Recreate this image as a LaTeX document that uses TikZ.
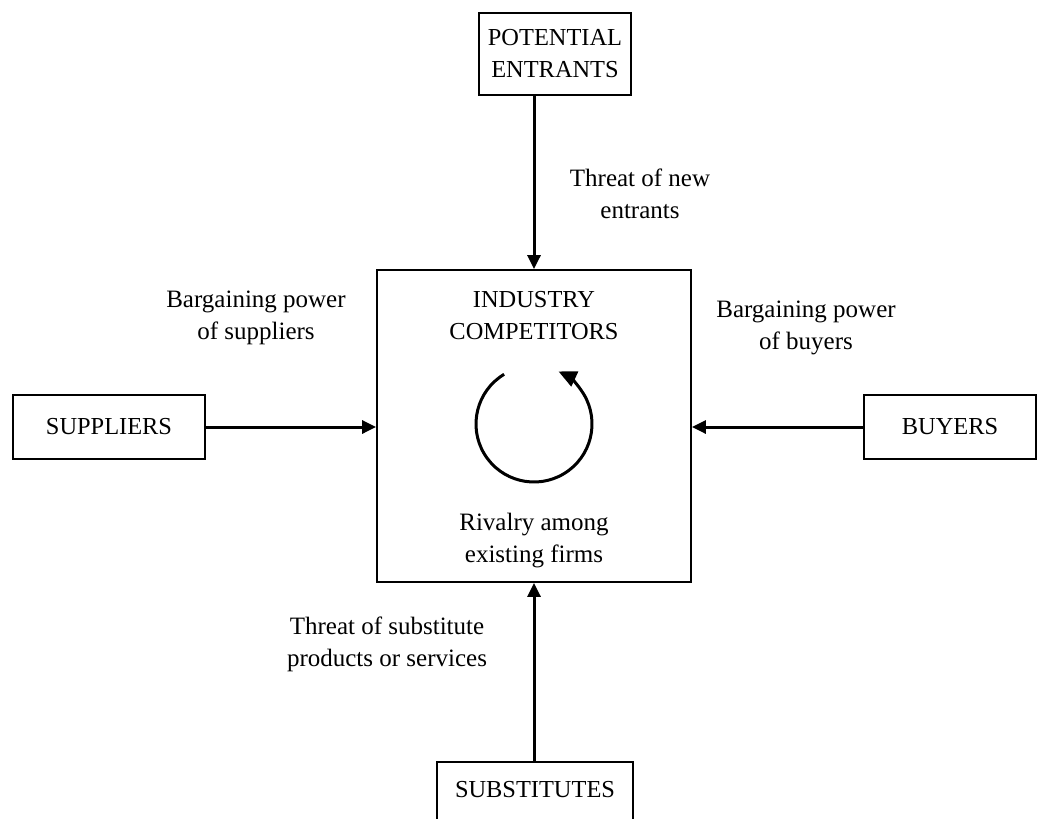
\documentclass[tikz,border=0pt]{standalone}
\usepackage{fontspec}
\setmainfont{Liberation Serif}
\usetikzlibrary{arrows.meta}
\begin{document}
\begin{tikzpicture}[x=0.5pt,y=-0.5pt,
  every node/.style={font=\fontsize{12.5}{16}\selectfont, inner sep=0pt},
  caps/.style={font=\fontsize{12.2}{16}\selectfont},
  box/.style={draw, line width=0.9pt, align=center, caps},
  lbl/.style={align=center},
  force/.style={line width=1.5pt, -{Triangle[length=7pt,width=6.5pt]}}]
  \useasboundingbox (0,0) rectangle (1050,819);
  % the five forces
  \node[box, minimum width=76pt, minimum height=41pt] (pe) at (555,54) {POTENTIAL\\ENTRANTS};
  \node[box, minimum width=157pt, minimum height=156pt] (ind) at (534,426) {};
  \node[box, minimum width=96pt, minimum height=32pt] (sup) at (109,427) {SUPPLIERS};
  \node[box, minimum width=86pt, minimum height=32pt] (buy) at (950,427) {BUYERS};
  \node[box, minimum width=98pt, minimum height=31pt, anchor=north] (sub) at (535,761) {};
  \node[caps] (subtxt) at (535,790) {SUBSTITUTES};
  % texts inside the central box
  \node[lbl, caps] (indtxt) at (534,316) {INDUSTRY\\COMPETITORS};
  \node[lbl] (rivtxt) at (534,541) {Rivalry among\\existing firms};
  % rivalry cycle
  \coordinate (rc) at (534,424);
  \draw[line width=1.5pt, -{Triangle[length=9pt,width=8pt]}]
    ([shift={(121:29pt)}]rc) arc[start angle=121, end angle=425, radius=29pt];
  % arrows
  \draw[force] (ind.north |- pe.south) -- (ind.north);
  \draw[force] (sup.east) -- (sup.east -| ind.west);
  \draw[force] (buy.west) -- (buy.west -| ind.east);
  \draw[force] (ind.south |- sub.north) -- (ind.south);
  % force labels
  \node[lbl] (lnew) at (640,194) {Threat of new\\entrants};
  \node[lbl] (lsup) at (256,318) {Bargaining power\\of suppliers};
  \node[lbl] (lbuy) at (806,328) {Bargaining power\\of buyers};
  \node[lbl] (lsub) at (387,644) {Threat of substitute\\products or services};
\end{tikzpicture}
\end{document}
